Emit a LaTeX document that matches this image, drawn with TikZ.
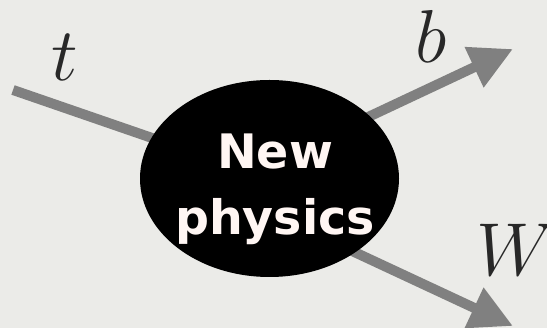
\RequirePackage{fix-cm}
\documentclass[tikz,border=0pt]{standalone}
\usepackage{fontspec}
\newfontfamily\blobfont{DejaVu Sans}
\usetikzlibrary{arrows.meta,shapes.geometric}
\definecolor{bgcol}{RGB}{235,235,232}
\definecolor{legcol}{RGB}{128,128,128}
\definecolor{txtcol}{RGB}{255,246,243}
\definecolor{lblcol}{RGB}{40,40,40}
\pgfdeclarelayer{backdrop}
\pgfdeclarelayer{legs}
\pgfsetlayers{backdrop,legs,main}
\begin{document}
\begin{tikzpicture}[x=1pt,y=-1pt,
  leg/.style={draw=legcol,line width=10pt},
  arr/.style={leg,-{Triangle[length=43pt,width=42pt]}},
  lbl/.style={inner sep=0pt,text=lblcol,font=\fontsize{75}{80}\selectfont},
  blob/.style={ellipse,fill=black,inner sep=0pt,minimum width=259pt,minimum height=197pt},
  blobtext/.style={inner sep=0pt,align=center,text=txtcol,font=\blobfont\bfseries\fontsize{47.5}{66}\selectfont}]
\begin{pgfonlayer}{backdrop}
\fill[bgcol] (0,0) rectangle (547,328);
\end{pgfonlayer}
\useasboundingbox (0,0) rectangle (547,328);
\node[blob] (np) at (269.5,178.5) {};
\node[blobtext] (nptext) at (275,189) {New\\physics};
\coordinate (tin) at (13,90);
\coordinate (src) at (217,188);
\coordinate (bout) at (513,49);
\coordinate (wout) at (513,326);
\begin{pgfonlayer}{legs}
\draw[leg] (tin) -- (np.center);
\draw[arr] (src) -- (bout);
\draw[arr] (src) -- (wout);
\end{pgfonlayer}
\node[lbl] (tl) at (65,57) {$t$};
\node[lbl] (bl) at (431,36) {$b$};
\node[lbl] (wl) at (516,250) {$W$};
\end{tikzpicture}
\end{document}
